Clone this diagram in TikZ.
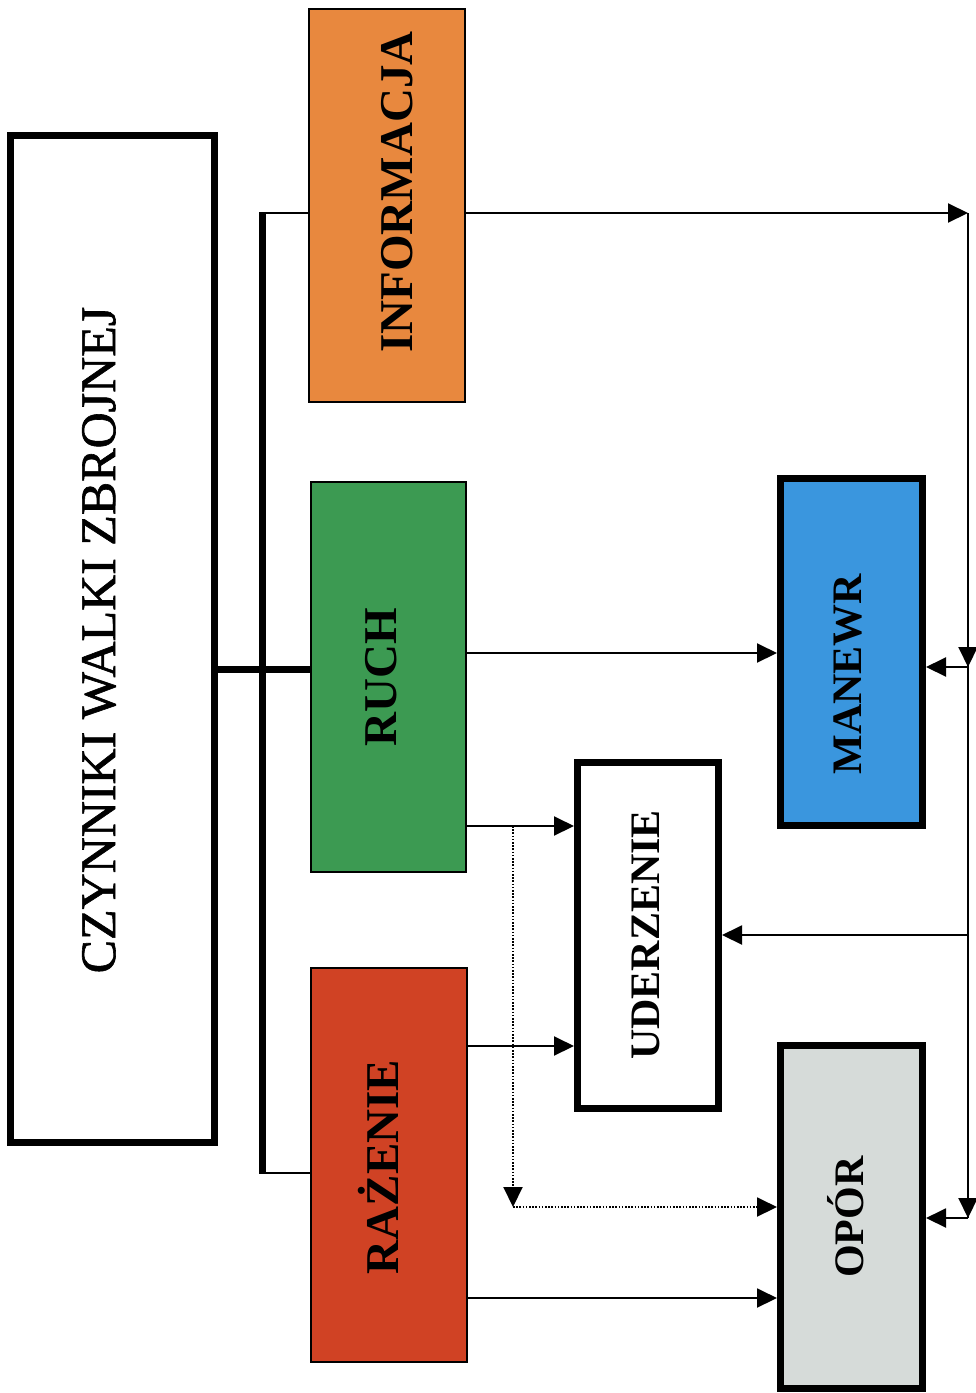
\documentclass[tikz,border=0pt]{standalone}
\usepackage{fontspec}
\setmainfont{Liberation Serif}
\newfontfamily\czynfont[FakeBold=1.2]{Liberation Serif}
\usetikzlibrary{arrows.meta,calc}
\definecolor{cinfo}{RGB}{232,136,62}
\definecolor{cruch}{RGB}{60,154,82}
\definecolor{craz}{RGB}{208,66,36}
\definecolor{cman}{RGB}{58,150,222}
\definecolor{copor}{RGB}{214,219,217}
\tikzset{
  thinbox/.style={draw=black,line width=2pt,rectangle,inner sep=0pt},
  thickbox/.style={draw=black,line width=7pt,rectangle,inner sep=0pt},
  biglbl/.style={rotate=90,inner sep=0pt,font=\fontsize{47}{47}\selectfont\bfseries},
  midlbl/.style={rotate=90,inner sep=0pt,font=\fontsize{42}{42}\selectfont\bfseries},
  conn/.style={line width=2pt},
  arr/.style={conn,-{Triangle[length=20pt,width=19pt]}},
  dotarr/.style={line width=2pt,dash pattern=on 1.6pt off 1.6pt,-{Triangle[length=20pt,width=19pt]}},
  thickconn/.style={line width=7pt}
}
\begin{document}
\begin{tikzpicture}[x=1pt,y=-1pt]
\useasboundingbox (0,0) rectangle (976,1393);
\fill[white] (0,0) rectangle (976,1393);
% boxes
\node[thickbox,fill=white,minimum width=204pt,minimum height=1007pt] (czyn) at (112.5,639) {};
\node[thinbox,fill=cinfo,minimum width=156pt,minimum height=393pt] (info) at (387,205.5) {};
\node[thinbox,fill=cruch,minimum width=155pt,minimum height=390pt] (ruch) at (388.5,677) {};
\node[thinbox,fill=craz,minimum width=156pt,minimum height=394pt] (raz) at (389,1165) {};
\node[thickbox,fill=white,minimum width=141pt,minimum height=346pt] (uder) at (648,935.5) {};
\node[thickbox,fill=cman,minimum width=142pt,minimum height=347pt] (man) at (851.5,652) {};
\node[thickbox,fill=copor,minimum width=142pt,minimum height=343pt] (opor) at (851.5,1217) {};
% labels
\node[rotate=90,inner sep=0pt,font=\fontsize{50}{50}\czynfont] (czynT) at (99,640) {CZYNNIKI WALKI ZBROJNEJ};
\node[biglbl] (infoT) at (397,192) {INFORMACJA};
\node[biglbl] (ruchT) at (381,677) {RUCH};
\node[biglbl,anchor=base] (razT) at (398,1167) {RAŻENIE};
\node[midlbl] (uderT) at (646,935) {UDERZENIE};
\node[midlbl] (manT) at (848,674) {MANEWR};
\node[midlbl,anchor=base] (oporT) at (863,1217) {OPÓR};
% left tree
\coordinate (vt) at (262,213);
\coordinate (vb) at (262,1173);
\draw[thickconn] (czyn.east |- 0,669) -- (ruch.west |- 0,669);
\draw[thickconn] ($(vt)+(0,-1)$) -- ($(vb)+(0,1)$);
\draw[conn] (vt) -- (info.west |- vt);
\draw[conn] (vb) -- (raz.west |- vb);
% right bus
\coordinate (rt) at (968,213);
\coordinate (r1) at (968,667);
\coordinate (r3) at (968,935);
\coordinate (r2) at (968,1218);
\draw[arr] (info.east |- rt) -- (rt);
\draw[conn] (rt) -- (r2);
\draw[arr] (rt) -- (r1);
\draw[arr] (r1) -- (r2);
\draw[arr] (r1) -- (man.east |- r1);
\draw[arr] (r3) -- (uder.east |- r3);
\draw[arr] (r2) -- (opor.east |- r2);
% forward arrows
\draw[arr] (ruch.east |- 0,653) -- (man.west |- 0,653);
\coordinate (d1) at (513,826);
\draw[arr] (ruch.east |- d1) -- (uder.west |- d1);
\draw[arr] (raz.east |- 0,1046) -- (uder.west |- 0,1046);
\draw[arr] (raz.east |- 0,1298) -- (opor.west |- 0,1298);
% dotted
\coordinate (d2) at (513,1207);
\draw[dotarr] (d1) -- (d2);
\draw[dotarr] (d2) -- (opor.west |- d2);
\end{tikzpicture}
\end{document}
